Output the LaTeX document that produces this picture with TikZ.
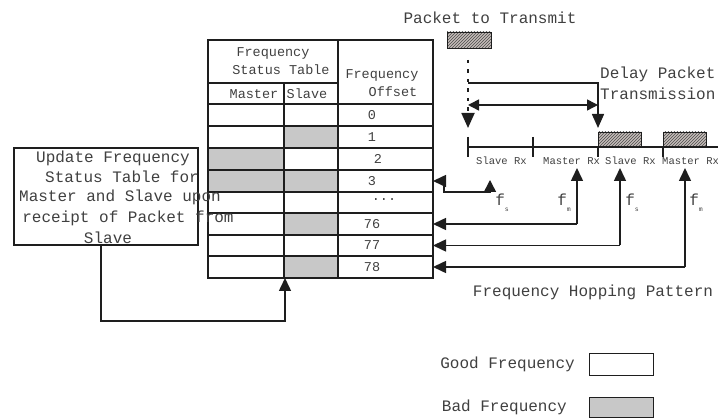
\documentclass[tikz,border=0pt]{standalone}
\usepackage{fontspec}
\setmainfont{Liberation Mono}
\usetikzlibrary{arrows.meta,patterns}
\definecolor{badgrey}{RGB}{200,200,200}
\definecolor{hatchfill}{RGB}{196,188,184}
\definecolor{ink}{RGB}{30,30,30}
\tikzset{
  tline/.style={draw=ink,line width=1.2pt},
  tip/.style={Triangle[length=13pt,width=12pt]},
  conn/.style={draw=ink,line width=1.5pt,-{Triangle[length=13pt,width=12pt]}},
  txt/.style={font=\fontsize{16}{16}\selectfont,inner sep=0pt,text=ink!85},
  ttxt/.style={font=\fontsize{13.5}{13.5}\selectfont,inner sep=0pt,text=ink!85},
  stxt/.style={font=\fontsize{10.5}{10.5}\selectfont,inner sep=0pt,text=ink!85,anchor=west},
  hatchbox/.style={draw=ink,line width=0.8pt,preaction={fill=hatchfill},pattern=north east lines,pattern color=ink!80},
  badcell/.style={fill=badgrey},
}
\newcommand{\fsub}[1]{{\fontsize{16}{16}\selectfont f}\raisebox{-6pt}{\fontsize{6.5}{6.5}\selectfont #1}}
\begin{document}
\begin{tikzpicture}[x=1pt,y=-1pt]
\useasboundingbox (0,0) rectangle (718,419);
% ---------- table ----------
\fill[badcell] (284,126) rectangle (338,148);
\fill[badcell] (208,148) rectangle (284,170);
\fill[badcell] (208,170) rectangle (338,192);
\fill[badcell] (284,213) rectangle (338,235);
\fill[badcell] (284,256) rectangle (338,278);
\draw[tline] (208,40) rectangle (433,278);
\draw[tline] (338,40) -- (338,278);
\draw[tline] (208,83) -- (338,83);
\draw[tline] (284,83) -- (284,278);
\foreach \yy in {104,126,148,170,192,213,235,256}
  \draw[tline] (208,\yy) -- (433,\yy);
\node[ttxt] (hfreq) at (273,53) {Frequency};
\node[ttxt] (hstat) at (281,70) {Status Table};
\node[ttxt] (hmas) at (254,94) {Master};
\node[ttxt] (hsla) at (307,94) {Slave};
\node[ttxt] (hof1) at (382,75) {Frequency};
\node[ttxt] (hof2) at (393,92) {Offset};
\node[ttxt] (o0) at (372,115) {0};
\node[ttxt] (o1) at (372,137) {1};
\node[ttxt] (o2) at (378,159) {2};
\node[ttxt] (o3) at (372,181) {3};
\node[ttxt] (odots) at (384,200) {...};
\node[ttxt] (o76) at (372,224) {76};
\node[ttxt] (o77) at (372,245.5) {77};
\node[ttxt] (o78) at (372,267) {78};
\coordinate (r3) at (433,181);
\coordinate (r76) at (433,224);
\coordinate (r77) at (433,245.5);
\coordinate (r78) at (433,267);
\coordinate (tbot) at (285,278);
% ---------- update box ----------
\draw[tline,fill=white] (14,148) rectangle (198,245);
\coordinate (ubot) at (101,245);
\node[txt] (u1) at (113,158) {Update Frequency};
\node[txt] (u2) at (122,177) {Status Table for};
\node[txt] (u3) at (120,197) {Master and Slave upon};
\node[txt] (u4) at (128,218) {receipt of Packet from};
\node[txt] (u5) at (108,238) {Slave};
\draw[conn] (ubot) -- (101,321) -- (285,321) -- (tbot);
% ---------- packet to transmit ----------
\node[txt] (ptt) at (490,18) {Packet to Transmit};
\draw[hatchbox] (447,32) rectangle (491,48);
\coordinate (dtop) at (468,60);
\coordinate (dtip) at (468,128);
\draw[draw=ink,line width=1.8pt,dash pattern=on 3.5pt off 6pt,-{Triangle[length=15pt,width=13pt]}] (dtop) -- (dtip);
\coordinate (delA) at (468,83);
\coordinate (delB) at (598,128);
\draw[conn,-{Triangle[length=14pt,width=12pt]}] (delA) -- (598,83) -- (delB);
\coordinate (dblA) at (468,105);
\coordinate (dblB) at (598,105);
\draw[draw=ink,line width=1.5pt,{Triangle[length=11pt,width=11pt]}-{Triangle[length=11pt,width=11pt]}] (dblA) -- (dblB);
\node[txt,anchor=west] (dp1) at (600,74) {Delay Packet};
\node[txt,anchor=west] (dp2) at (600,94) {Transmission};
% ---------- timeline ----------
\draw[hatchbox] (598,132) rectangle (641,147);
\draw[hatchbox] (663,132) rectangle (706,147);
\draw[tline,line width=1.4pt] (468,147) -- (718,147);
\draw[tline,line width=1.4pt] (468,137) -- (468,157);
\draw[tline,line width=1.4pt] (533,137) -- (533,157);
\draw[tline,line width=1.4pt] (598,147) -- (598,157);
\draw[tline,line width=1.4pt] (663,147) -- (663,157);
\node[stxt] (s1) at (476,161) {Slave Rx};
\node[stxt] (s2) at (543,161) {Master Rx};
\node[stxt] (s3) at (605,161) {Slave Rx};
\node[stxt] (s4) at (662,161) {Master Rx};
% ---------- hopping arrows ----------
\coordinate (h1) at (490,180);
\coordinate (h2) at (577,168);
\coordinate (h3) at (620,168);
\coordinate (h4) at (685,168);
\draw[conn,{Triangle[length=13pt,width=12pt]}-{Triangle[length=12pt,width=12pt]}] (r3) -- (444,181) -- (444,192) -- (490,192) -- (h1);
\draw[conn] (577,224) -- (h2);
\draw[conn] (577,224) -- (r76);
\draw[conn] (620,245.5) -- (h3);
\draw[conn] (620,245.5) -- (r77);
\draw[conn] (685,267) -- (h4);
\draw[conn] (685,267) -- (r78);
\node[inner sep=0pt,text=ink!85] (f1) at (502,203) {\fsub{s}};
\node[inner sep=0pt,text=ink!85] (f2) at (564,203) {\fsub{m}};
\node[inner sep=0pt,text=ink!85] (f3) at (632,203) {\fsub{s}};
\node[inner sep=0pt,text=ink!85] (f4) at (696,203) {\fsub{m}};
\node[txt] (fhp) at (593,292) {Frequency Hopping Pattern};
% ---------- legend ----------
\node[txt,anchor=east] (lg) at (575,364) {Good Frequency};
\draw[draw=ink,line width=0.8pt,fill=white] (589,353) rectangle (653,375);
\node[txt,anchor=east] (lb) at (567,407) {Bad Frequency};
\draw[draw=ink,line width=0.8pt,fill=badgrey] (589,397) rectangle (653,417);
\end{tikzpicture}
\end{document}
